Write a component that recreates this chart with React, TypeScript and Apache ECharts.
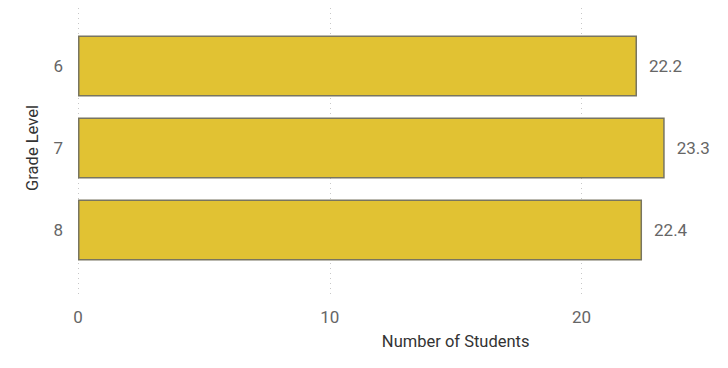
import React, { useEffect, useRef } from "react";
import * as echarts from "echarts";

const categories = ["6", "7", "8"];
const values = [22.2, 23.3, 22.4];
const xTicks = [0, 10, 20];

export default function App() {
  const ref = useRef<HTMLDivElement>(null);
  useEffect(() => {
    if (!ref.current) return;
    const chart = echarts.init(ref.current, null, { renderer: "svg" });
    const font = "Roboto, sans-serif";
    const plotW = 30 * 25.18;
    chart.setOption({
      animation: false,
      grid: [
        { left: 78, top: 3, width: plotW, height: 295 },
        { left: 78, top: 25, width: plotW, height: 246 },
      ],
      xAxis: [
        {
          gridIndex: 0,
          type: "value",
          min: 0,
          max: 30,
          interval: 10,
          axisLine: { show: false },
          axisTick: { show: false },
          splitLine: { show: true, lineStyle: { type: [1, 4], color: "#c8c8c8", width: 1 } },
          axisLabel: {
            margin: 10,
            color: "#666666",
            fontSize: 17,
            fontFamily: font,
            formatter: (v: number) => (xTicks.includes(v) ? String(v) : ""),
          },
          name: "Number of Students",
          nameLocation: "middle",
          nameGap: 35,
          nameTextStyle: { color: "#333333", fontSize: 16.5, fontFamily: font },
        },
        {
          gridIndex: 1,
          type: "value",
          min: 0,
          max: 30,
          show: false,
        },
      ],
      yAxis: [
        { gridIndex: 0, type: "value", min: 0, max: 1, show: false },
        {
          gridIndex: 1,
          type: "category",
          data: categories,
          inverse: true,
          axisLine: { show: false },
          axisTick: { show: false },
          axisLabel: { margin: 15, color: "#666666", fontSize: 17, fontFamily: font },
          name: "Grade Level",
          nameLocation: "middle",
          nameRotate: 90,
          nameGap: 37,
          nameTextStyle: { color: "#333333", fontSize: 16.5, fontFamily: font },
        },
      ],
      series: [
        {
          type: "bar",
          xAxisIndex: 1,
          yAxisIndex: 1,
          data: values,
          barWidth: 61,
          itemStyle: { color: "#E1C233", borderColor: "#787560", borderWidth: 1.5 },
          label: {
            show: true,
            position: "right",
            distance: 12,
            color: "#666666",
            fontSize: 17,
            fontFamily: font,
            formatter: (p: any) => p.value.toFixed(1),
          },
        },
      ],
    });
    return () => chart.dispose();
  }, []);
  return (
    <div style={{ width: 728, height: 368, margin: -8, overflow: "hidden" }}>
      <div ref={ref} style={{ width: 900, height: 368 }} />
    </div>
  );
}
